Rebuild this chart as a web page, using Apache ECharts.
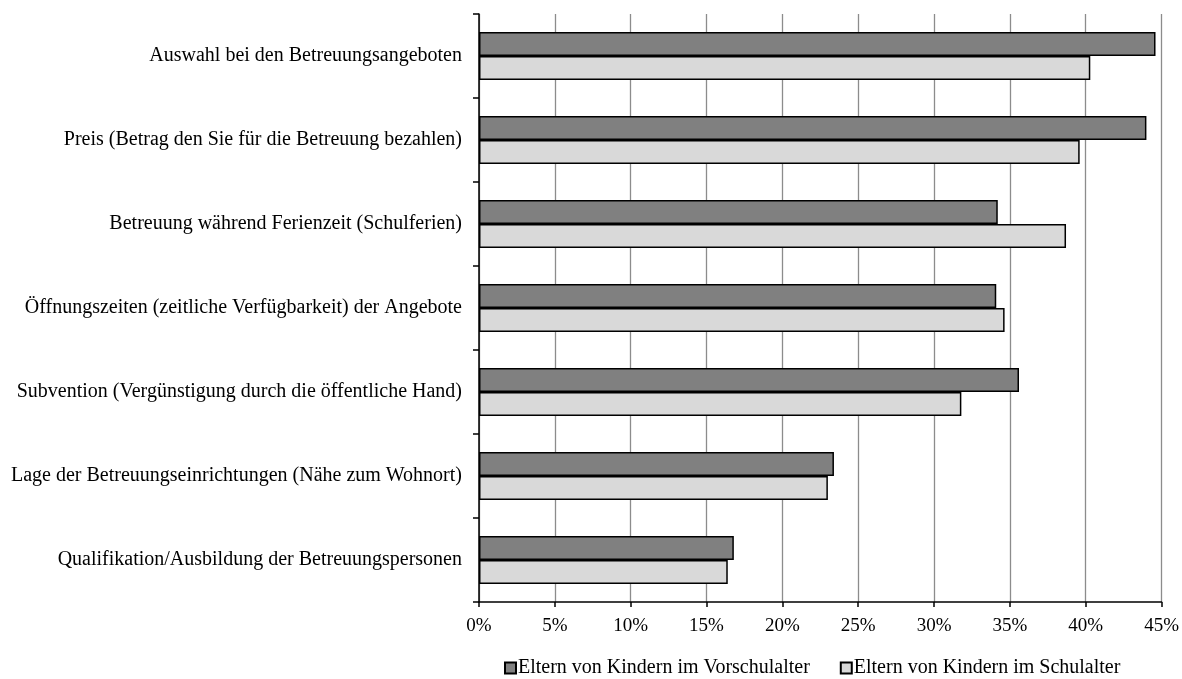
<!DOCTYPE html>
<html>
<head>
<meta charset="utf-8">
<script src="https://cdn.jsdelivr.net/npm/echarts@6/dist/echarts.min.js"></script>
<style>
html,body{margin:0;padding:0;background:#fff;}
#c{width:1182px;height:679px;}
</style>
</head>
<body>
<div id="c"></div>
<script>
const categories = [
  "Auswahl bei den Betreuungsangeboten",
  "Preis (Betrag den Sie für die Betreuung bezahlen)",
  "Betreuung während Ferienzeit (Schulferien)",
  "Öffnungszeiten (zeitliche Verfügbarkeit) der Angebote",
  "Subvention (Vergünstigung durch die öffentliche Hand)",
  "Lage der Betreuungseinrichtungen (Nähe zum Wohnort)",
  "Qualifikation/Ausbildung der Betreuungspersonen"
];
const seriesNames = ["Eltern von Kindern im Vorschulalter", "Eltern von Kindern im Schulalter"];
const vorschulalter = [44.6, 44.0, 34.2, 34.1, 35.6, 23.4, 16.8];
const schulalter = [40.3, 39.6, 38.7, 34.65, 31.8, 23.0, 16.4];
const xTicks = [0, 5, 10, 15, 20, 25, 30, 35, 40, 45];

const font = "'Liberation Serif', 'Times New Roman', serif";
const chart = echarts.init(document.getElementById('c'), null, {renderer: 'canvas'});
chart.setOption({
  animation: false,
  backgroundColor: '#ffffff',
  textStyle: {fontFamily: font, color: '#000'},
  grid: {left: 479, right: 19, top: 14, bottom: 77, containLabel: false},
  legend: {
    left: 499, top: 653,
    itemWidth: 11, itemHeight: 11, itemGap: 30,
    icon: 'rect',
    textStyle: {fontFamily: font, fontSize: 20, color: '#000', padding: [0,0,0,-3]},
    data: seriesNames
  },
  xAxis: {
    type: 'value', min: xTicks[0], max: xTicks[xTicks.length - 1], interval: 5,
    axisLine: {show: true, lineStyle: {color: '#000', width: 1.5}},
    axisTick: {show: true, length: 5, lineStyle: {color: '#000', width: 1.5}},
    axisLabel: {formatter: v => v + '%', fontFamily: font, fontSize: 19, color: '#000', margin: 15},
    splitLine: {show: true, lineStyle: {color: '#8c8c8c', width: 1.3}}
  },
  yAxis: {
    type: 'category', data: categories, inverse: true,
    axisLine: {show: true, lineStyle: {color: '#000', width: 1.5}},
    axisTick: {show: true, length: 6, lineStyle: {color: '#000', width: 1.5}},
    axisLabel: {fontFamily: font, fontSize: 20, color: '#000', margin: 17},
    splitLine: {show: false}
  },
  series: [
    {
      name: seriesNames[0], type: 'bar', data: vorschulalter,
      barWidth: 24, barGap: '0%',
      itemStyle: {color: '#808080', borderColor: '#000', borderWidth: 1.5}
    },
    {
      name: seriesNames[1], type: 'bar', data: schulalter,
      barWidth: 24, barGap: '0%',
      itemStyle: {color: '#d9d9d9', borderColor: '#000', borderWidth: 1.5}
    }
  ]
});
</script>
</body>
</html>
